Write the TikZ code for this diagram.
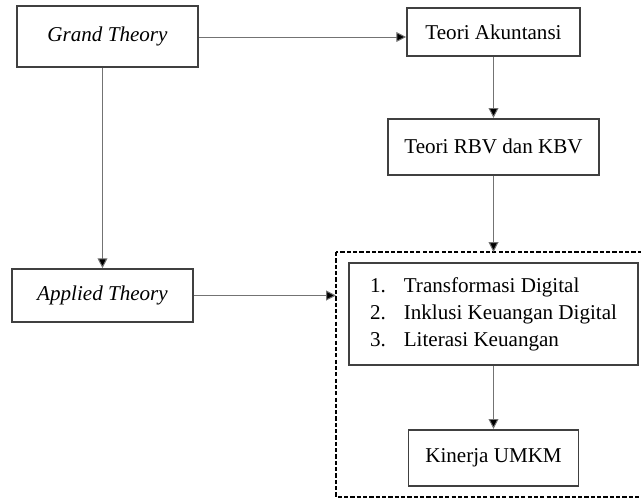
\documentclass[tikz,border=0pt]{standalone}
\usepackage{fontspec}
\setmainfont{Liberation Serif}
\usetikzlibrary{arrows.meta,positioning}
\definecolor{boxline}{gray}{0.25}
\definecolor{wireline}{gray}{0.45}
\tikzset{
  theorybox/.style={
    rectangle, draw=boxline, line width=1.2pt, fill=white,
    align=center, inner sep=2pt
  },
  wire/.style={draw=wireline, line width=0.7pt},
  arrow/.style={wire, -{Triangle[length=7pt,width=7pt,fill=black]}},
  frame/.style={draw=black, dash pattern=on 3pt off 1.5pt, line width=0.8pt}
}

\begin{document}
\begin{tikzpicture}[font=\fontsize{15}{19.3}\selectfont]

  \useasboundingbox (0,0) rectangle (16.025,-12.475);

  % Theory boxes
  \node[theorybox, minimum width=4.525cm, minimum height=1.525cm] (grand) at (2.6875,-0.9125) {\textit{Grand Theory}};
  \node[theorybox, minimum width=4.525cm, minimum height=1.325cm] (applied) at (2.5625,-7.3875) {\textit{Applied Theory}};
  \node[theorybox, minimum width=4.325cm, minimum height=1.2cm] (akun) at (12.3375,-0.8) {Teori Akuntansi};
  \node[theorybox, minimum width=5.275cm, minimum height=1.4cm, below=1.525cm of akun] (rbv) {Teori RBV dan KBV};

  % Research variables inside the dashed frame
  \coordinate (frameNW) at (8.4,-6.3);
  \coordinate (frameSE) at (16.3,-12.425);
  \draw[frame] (frameNW) rectangle (frameSE);
  \node[theorybox, minimum width=7.225cm, minimum height=2.55cm] (vars) at (12.3375,-7.85) {%
    \begin{tabular}{@{}l@{\hspace{0.45cm}}l@{}}
      1. & Transformasi Digital\\
      2. & Inklusi Keuangan Digital\\
      3. & Literasi Keuangan
    \end{tabular}};
  \node[theorybox, minimum width=4.25cm, minimum height=1.4cm, below=1.575cm of vars] (umkm) {Kinerja UMKM};

  % Connections
  \draw[arrow] (grand.east |- 0,-0.925) -- (akun.west |- 0,-0.925);
  \draw[arrow] (akun) -- (rbv);
  \draw[arrow] (rbv.south) -- (rbv.south |- frameNW);
  \draw[arrow] (applied.north |- grand.south) -- (applied.north);
  \draw[arrow] (applied.east) -- (frameNW |- applied.east);
  \draw[arrow] (vars) -- (umkm);

\end{tikzpicture}
\end{document}
